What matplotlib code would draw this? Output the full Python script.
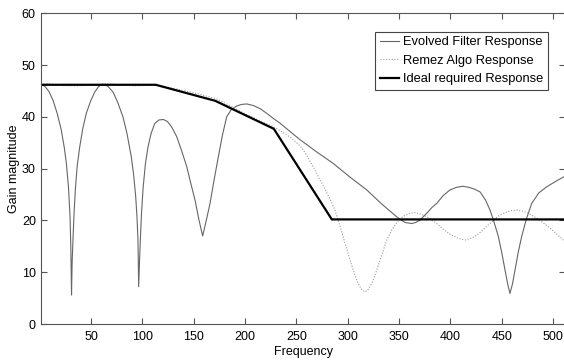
import matplotlib
matplotlib.use('Agg')
import matplotlib.pyplot as plt

plt.rcParams['font.family'] = ['Liberation Sans', 'DejaVu Sans']
plt.rcParams['font.size'] = 9

# Evolved filter response
evolved_x = [1, 5, 9, 13, 17, 21, 24, 26, 28, 29.5, 30.3, 31, 31.6, 32.4, 33.5, 34.7, 36.5, 39,
             42, 45.4, 49.5, 53.6, 57.5, 61.7, 66.5, 71.4, 76, 81.1, 85, 89.2, 91.5, 93.5,
             94.8, 95.7, 96.4, 97.2, 98, 99.2, 100.8, 103, 105.5, 108.5, 112, 116, 120.4,
             124.5, 129, 133.4, 138, 143.2, 147, 151.3, 155, 158.7, 162, 165.9, 170, 174,
             178, 182.1, 186.5, 191.9, 196.5, 201.6, 208, 214.6, 221, 227.5, 234, 240,
             253.5, 270, 286, 302, 318.5, 333, 347.7, 352, 356, 362.3, 366, 370,
             374, 378, 382, 386.7, 393, 399.6, 406, 412, 418, 424, 428.9, 434, 438.6, 442,
             446.7, 450, 453.2, 456, 458, 460.5, 462.9, 466, 469.4, 474, 479.2, 486, 493.8,
             503, 512]
evolved_y = [46.3, 45.9, 44.9, 43.2, 40.7, 37.5, 34, 31, 26.5, 21, 15, 5.6, 12, 16.2, 21.5, 25.9, 30.5, 34.2,
             37.8, 40.7, 43, 44.8, 45.9, 46.3, 45.9, 44.8, 42.8, 40, 36.8, 32.3, 28.8, 24.6,
             20.5, 16.2, 7.2, 12, 16.2, 21.5, 26.5, 31, 34.2, 36.8, 38.7, 39.4, 39.5,
             39.1, 37.9, 36.2, 33.6, 30.4, 27.3, 23.9, 20.2, 17, 19.8, 23.3, 28, 32.3,
             36.5, 40, 41.4, 42.1, 42.4, 42.5, 42.2, 41.6, 40.7, 39.7, 38.8, 37.8,
             35.6, 33.2, 31, 28.4, 25.9, 23.2, 20.7, 20.1, 19.6, 19.4, 19.6, 20,
             20.8, 21.6, 22.5, 23.3, 24.8, 25.9, 26.4, 26.6, 26.4, 26, 25.5, 24, 22, 20,
             16.9, 13.8, 10.4, 7.5, 5.9, 7.8, 10.4, 13.8, 16.9, 20.3, 23.3, 25.3, 26.5,
             27.6, 28.6]

# Remez algorithm response
remez_x = [1, 8, 15, 22, 35, 50, 58, 65, 72, 80, 95, 113, 125, 140, 155, 172, 186, 200, 212,
           224, 232, 240, 247, 253.5, 258.5, 263, 268, 273, 277, 281, 284.5, 287.5, 292,
           296.5, 301, 305.4, 309, 313, 316.8, 320.5, 324.5, 328.2, 333, 338, 343, 347.7,
           352, 356, 360.5, 365, 370, 376, 381, 386.7, 393, 400, 407, 414, 421, 428, 435,
           441.8, 447, 453, 459, 464.6, 470, 476, 481, 487.3, 494, 500, 505, 510, 512]
remez_y = [46.3, 46.4, 46.2, 46.05, 46.0, 46.1, 46.3, 46.4, 46.3, 46.1, 46.0, 46.2, 45.7, 45.1, 44.4, 43.5, 42.1, 40.6, 39.5,
           38.4, 37.6, 36.6, 35.6, 34.4, 33.1, 31.5, 29.8, 27.8, 26.4, 24.8, 23.4, 22, 19.2,
           16.2, 13.2, 10.4, 8.3, 6.8, 6.2, 6.8, 8.3, 10.4, 13.3, 16.2, 18.2, 19.6,
           20.5, 21, 21.4, 21.5, 21.3, 20.8, 20.2, 19.4, 18.3, 17.3, 16.6, 16.2, 16.6, 17.5, 18.8,
           20, 20.9, 21.5, 21.9, 22, 21.8, 21.4, 20.8, 20, 19, 18, 17.1, 16.2, 15.9]

# Ideal required response
ideal_x = [1, 113, 171, 228, 284.5, 512]
ideal_y = [46.2, 46.2, 43.1, 37.7, 20.2, 20.2]

x_ticks = [50, 100, 150, 200, 250, 300, 350, 400, 450, 500]
y_ticks = [0, 10, 20, 30, 40, 50, 60]

fig = plt.figure(figsize=(5.64, 3.63), dpi=100)
ax = fig.add_axes([0.0722, 0.1074, 0.9303, 0.8559])

ax.plot(evolved_x, evolved_y, color='#666666', linewidth=0.8, label='Evolved Filter Response')
ax.plot(remez_x, remez_y, color='#9a9a9a', linewidth=0.8, linestyle=(0, (1, 1.5)),
        label='Remez Algo Response')
ax.plot(ideal_x, ideal_y, color='black', linewidth=1.6, label='Ideal required Response')

ax.set_xlim(1, 512)
ax.set_ylim(0, 60)
ax.set_xticks(x_ticks)
ax.set_yticks(y_ticks)
ax.tick_params(direction='in', top=True, right=True, length=4, width=0.8,
               color='#555555', labelsize=9)
ax.tick_params(axis='x', pad=5)
ax.tick_params(axis='y', pad=3.5)
for s in ax.spines.values():
    s.set_color('#555555')
    s.set_linewidth(0.8)

ax.set_xlabel('Frequency', fontsize=9, labelpad=2)
ax.set_ylabel('Gain magnitude', fontsize=9, labelpad=1.5)

leg = ax.legend(loc='upper right', bbox_to_anchor=(0.966, 0.941), borderaxespad=0,
                fontsize=9.3, handlelength=1.5, handletextpad=0.3, borderpad=0.35,
                labelspacing=0.5, fancybox=False, framealpha=1)
leg.get_frame().set_edgecolor('#444444')
leg.get_frame().set_linewidth(0.8)

fig.savefig('out.png', dpi=100)
